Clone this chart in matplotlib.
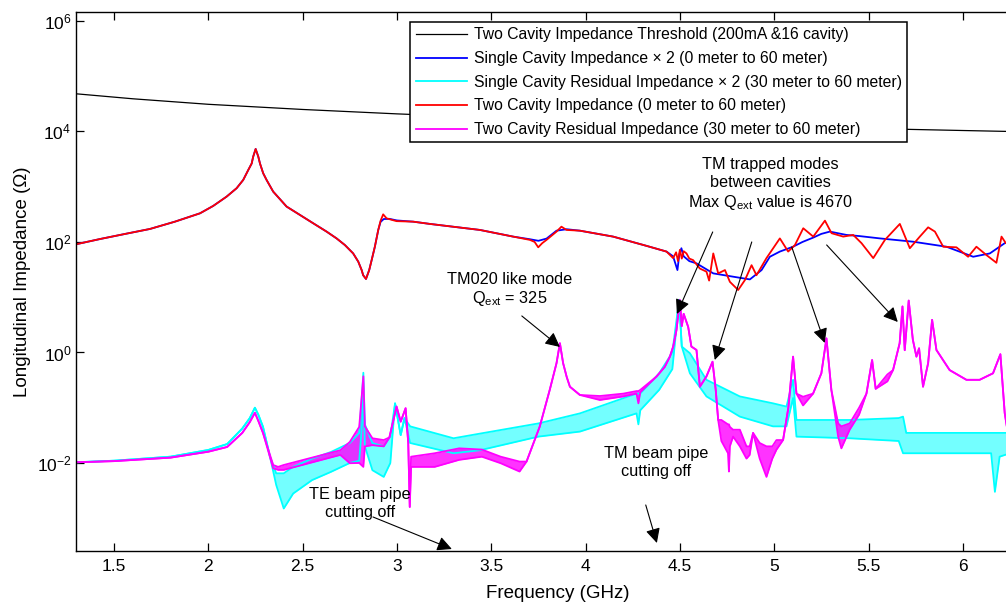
import matplotlib.pyplot as plt

plt.rcParams['font.family'] = ['Liberation Sans', 'DejaVu Sans']

# threshold line (200mA, 16 cavities)
thr_freq = [1.3, 1.6, 2.0, 2.5, 3.0, 3.5, 4.0, 4.5, 5.0, 5.5, 6.0, 6.4]
thr_imp = [48000, 39000, 31000, 25000, 20800, 17800, 15600, 13900, 12500, 11300, 10400, 9750]

# single cavity impedance x2 (blue)
blue_freq = [1.30, 1.426, 1.56, 1.691, 1.823, 1.956, 2.026, 2.097, 2.15, 2.185,
             2.212, 2.23, 2.238, 2.251, 2.265, 2.274, 2.291, 2.309, 2.344, 2.415,
             2.486, 2.556, 2.627, 2.68, 2.724, 2.768, 2.795, 2.813, 2.821, 2.836,
             2.853, 2.866, 2.883, 2.901, 2.913, 2.93, 2.96, 3.0, 3.086, 3.175,
             3.263, 3.44, 3.616, 3.705, 3.75, 3.793, 3.846, 3.90, 3.97, 4.146,
             4.323, 4.429, 4.464, 4.487, 4.497, 4.508, 4.52, 4.55, 4.588, 4.677,
             4.783, 4.871, 4.933, 4.977, 5.03, 5.10, 5.15, 5.207, 5.25, 5.295,
             5.383, 5.45, 5.56, 5.737, 5.913, 6.055, 6.143, 6.222, 6.30]
blue_imp = [91, 113, 140, 172, 233, 330, 449, 661, 938, 1324,
            2010, 2630, 3500, 4820, 3500, 2630, 1750, 1324, 815, 437,
            308, 218, 154, 116, 88, 62, 44, 31, 25, 21.4,
            31, 47, 82, 165, 230, 260, 262, 245, 233, 212,
            195, 165, 125, 112, 105, 115, 160, 170, 160, 125,
            85, 67, 55, 31, 60, 77, 55, 45, 41, 27,
            23.5, 21, 31, 54, 67, 82, 100, 120, 140, 154,
            134, 128, 116, 101, 82, 54, 62, 95, 110]

# two cavity impedance (red)
red_freq = [1.30, 1.426, 1.56, 1.691, 1.823, 1.956, 2.026, 2.097, 2.15, 2.185,
            2.212, 2.23, 2.238, 2.251, 2.265, 2.274, 2.291, 2.309, 2.344, 2.415,
            2.486, 2.556, 2.627, 2.68, 2.724, 2.768, 2.795, 2.813, 2.821, 2.836,
            2.853, 2.866, 2.883, 2.901, 2.913, 2.927, 2.945, 2.975, 2.998, 3.086,
            3.175, 3.263, 3.44, 3.616, 3.705, 3.73, 3.749, 3.77, 3.793, 3.846,
            3.872, 3.899, 3.97, 4.146, 4.323, 4.429, 4.464, 4.48, 4.49, 4.50,
            4.51, 4.52, 4.535, 4.55, 4.57, 4.606, 4.641, 4.655, 4.677, 4.703,
            4.739, 4.765, 4.809, 4.845, 4.88, 4.906, 4.959, 5.03, 5.074, 5.11,
            5.154, 5.207, 5.269, 5.304, 5.366, 5.419, 5.463, 5.525, 5.587, 5.666,
            5.719, 5.772, 5.816, 5.852, 5.896, 5.966, 6.028, 6.072, 6.125, 6.178,
            6.205, 6.228, 6.30]
red_imp = [91, 113, 140, 172, 233, 330, 449, 661, 938, 1324,
           2010, 2630, 3500, 4820, 3500, 2630, 1750, 1324, 815, 437,
           308, 218, 154, 116, 88, 62, 44, 31, 25, 21.4,
           31, 47, 82, 165, 240, 316, 268, 250, 238, 233,
           212, 195, 165, 125, 109, 100, 80, 95, 109, 154,
           189, 165, 160, 125, 85, 67, 51, 65, 45, 72,
           50, 68, 62, 50, 47, 33, 29, 20, 62, 27,
           31, 19, 13.5, 20.5, 38, 25, 51, 116, 67, 88,
           177, 125, 243, 144, 125, 134, 95, 51, 109, 212,
           77, 125, 184, 154, 82, 80, 54, 82, 58, 42,
           125, 95, 110]

# single cavity residual x2 (cyan): upper / lower edge of the ripple
cyan_freq = [1.30, 1.50, 1.80, 2.00, 2.10, 2.18, 2.22, 2.247, 2.265, 2.29,
             2.327, 2.36, 2.40, 2.45, 2.55, 2.65, 2.75, 2.80, 2.815, 2.822,
             2.83, 2.87, 2.93, 2.965, 2.99, 3.02, 3.04, 3.07, 3.30, 3.44,
             3.75, 3.97, 4.27, 4.28, 4.29, 4.39, 4.46, 4.496, 4.51, 4.553,
             4.641, 4.818, 4.994, 5.065, 5.10, 5.118, 5.40, 5.66, 5.683, 5.70,
             6.15, 6.17, 6.195, 6.25]
cyan_hi = [0.0103, 0.011, 0.013, 0.0172, 0.022, 0.042, 0.065, 0.10, 0.075, 0.045,
           0.013, 0.0065, 0.0065, 0.0085, 0.012, 0.0158, 0.023, 0.035, 0.18, 0.43,
           0.05, 0.023, 0.02, 0.03, 0.12, 0.032, 0.065, 0.046, 0.028, 0.034,
           0.052, 0.079, 0.18, 0.18, 0.18, 0.42, 1.0, 9.0, 1.28, 0.97,
           0.32, 0.16, 0.12, 0.105, 0.32, 0.06, 0.06, 0.065, 0.069, 0.035,
           0.035, 0.035, 0.035, 0.035]
cyan_lo = [0.0103, 0.011, 0.013, 0.0172, 0.022, 0.042, 0.065, 0.10, 0.075, 0.045,
           0.013, 0.004, 0.0015, 0.0028, 0.0049, 0.0069, 0.010, 0.011, 0.05, 0.2,
           0.02, 0.0074, 0.0056, 0.01, 0.12, 0.032, 0.065, 0.023, 0.015, 0.017,
           0.030, 0.037, 0.079, 0.05, 0.09, 0.21, 0.5, 9.0, 1.28, 0.42,
           0.16, 0.069, 0.046, 0.046, 0.15, 0.03, 0.028, 0.025, 0.015, 0.015,
           0.015, 0.003, 0.013, 0.015]

# two cavity residual (magenta): upper / lower edge of the ripple
mag_freq = [1.30, 1.50, 1.80, 2.00, 2.10, 2.18, 2.22, 2.247, 2.265, 2.29,
            2.344, 2.37, 2.40, 2.70, 2.75, 2.80, 2.822, 2.83, 2.87, 2.93,
            2.96, 2.998, 3.02, 3.046, 3.06, 3.068, 3.075, 3.20, 3.33, 3.45,
            3.55, 3.65, 3.687, 3.757, 3.81, 3.846, 3.864, 3.881, 3.90, 3.917,
            3.97, 4.076, 4.20, 4.27, 4.28, 4.29, 4.376, 4.42, 4.447, 4.465,
            4.482, 4.50, 4.51, 4.52, 4.544, 4.561, 4.588, 4.606, 4.641, 4.673,
            4.69, 4.703, 4.72, 4.755, 4.76, 4.765, 4.782, 4.818, 4.853, 4.87,
            4.888, 4.923, 4.959, 4.99, 5.012, 5.047, 5.075, 5.10, 5.118, 5.153,
            5.206, 5.25, 5.277, 5.303, 5.339, 5.356, 5.40, 5.45, 5.489, 5.519,
            5.538, 5.60, 5.63, 5.665, 5.68, 5.692, 5.713, 5.735, 5.754, 5.768,
            5.789, 5.816, 5.837, 5.86, 5.93, 6.019, 6.089, 6.16, 6.199, 6.222,
            6.25]
mag_hi = [0.0103, 0.0108, 0.0125, 0.016, 0.0195, 0.035, 0.055, 0.081, 0.058, 0.035,
          0.0092, 0.0085, 0.0092, 0.017, 0.024, 0.045, 0.37, 0.046, 0.028, 0.026,
          0.029, 0.105, 0.056, 0.098, 0.023, 0.0016, 0.013, 0.015, 0.0184, 0.0175,
          0.013, 0.0106, 0.0106, 0.0455, 0.21, 0.64, 1.47, 0.64, 0.36, 0.24,
          0.17, 0.163, 0.18, 0.20, 0.20, 0.21, 0.366, 0.55, 0.84, 1.3,
          2.55, 8.9, 3.0, 5.0, 2.9, 1.28, 1.11, 0.24, 0.37, 0.68,
          0.21, 0.06, 0.06, 0.05, 0.05, 0.045, 0.04, 0.04, 0.02, 0.02,
          0.035, 0.023, 0.02, 0.02, 0.026, 0.026, 0.10, 0.84, 0.18, 0.158,
          0.18, 0.42, 1.8, 0.21, 0.052, 0.046, 0.052, 0.10, 0.18, 0.73,
          0.22, 0.40, 0.48, 1.47, 6.8, 1.1, 8.7, 1.7, 0.84, 1.19,
          0.24, 0.64, 3.9, 1.11, 0.48, 0.32, 0.32, 0.42, 0.93, 0.08,
          0.02]
mag_lo = [0.0103, 0.0108, 0.0125, 0.016, 0.0195, 0.035, 0.055, 0.081, 0.058, 0.035,
          0.0080, 0.0075, 0.0075, 0.014, 0.0099, 0.010, 0.0085, 0.020, 0.021, 0.020,
          0.029, 0.105, 0.056, 0.098, 0.023, 0.0016, 0.0085, 0.0085, 0.0114, 0.013,
          0.0099, 0.0070, 0.0106, 0.0455, 0.21, 0.64, 1.47, 0.64, 0.36, 0.24,
          0.17, 0.138, 0.16, 0.18, 0.12, 0.19, 0.366, 0.55, 0.84, 1.3,
          2.55, 8.9, 3.0, 5.0, 2.9, 1.28, 1.11, 0.24, 0.37, 0.68,
          0.21, 0.06, 0.025, 0.015, 0.007, 0.02, 0.03, 0.02, 0.012, 0.014,
          0.035, 0.012, 0.0056, 0.012, 0.0174, 0.026, 0.10, 0.84, 0.18, 0.11,
          0.18, 0.42, 1.8, 0.21, 0.03, 0.0184, 0.04, 0.075, 0.18, 0.73,
          0.22, 0.30, 0.48, 1.47, 6.8, 1.1, 8.7, 1.7, 0.84, 1.19,
          0.24, 0.64, 3.9, 1.11, 0.48, 0.32, 0.32, 0.42, 0.93, 0.08,
          0.02]

labels = ['Two Cavity Impedance Threshold (200mA &16 cavity)',
          'Single Cavity Impedance \u00d7 2 (0 meter to 60 meter)',
          'Single Cavity Residual Impedance \u00d7 2 (30 meter to 60 meter)',
          'Two Cavity Impedance (0 meter to 60 meter)',
          'Two Cavity Residual Impedance (30 meter to 60 meter)']

fig = plt.figure(figsize=(10.06, 6.04), dpi=100)
# axes runs a little past the right edge of the picture, like the original
ax = fig.add_axes([0.0758, 0.0877, 0.9563, 0.8924])

lw = 1.3
h1, = ax.plot(thr_freq, thr_imp, color='k', lw=0.9)
h2, = ax.plot(blue_freq, blue_imp, color='#0000ff', lw=lw)
h3, = ax.plot(cyan_freq, cyan_hi, color='#00ffff', lw=lw)
ax.plot(cyan_freq, cyan_lo, color='#00ffff', lw=lw)
ax.fill_between(cyan_freq, cyan_lo, cyan_hi, color='#00ffff', alpha=0.55, lw=0)
h4, = ax.plot(red_freq, red_imp, color='#ff0000', lw=lw)
h5, = ax.plot(mag_freq, mag_hi, color='#ff00ff', lw=lw)
ax.plot(mag_freq, mag_lo, color='#ff00ff', lw=lw)
ax.fill_between(mag_freq, mag_lo, mag_hi, color='#ff00ff', alpha=0.8, lw=0)

ax.set_yscale('log')
ax.set_xlim(1.3, 6.4)
ax.set_ylim(2.55e-4, 1.45e6)
ax.set_xticks([1.5, 2, 2.5, 3, 3.5, 4, 4.5, 5, 5.5, 6])
ax.set_xticklabels(['1.5', '2', '2.5', '3', '3.5', '4', '4.5', '5', '5.5', '6'])
ax.set_yticks([1e-2, 1e0, 1e2, 1e4, 1e6])
ax.minorticks_off()
ax.tick_params(direction='in', top=True, right=True, length=6, width=0.9, labelsize=12.5)
ax.tick_params(axis='x', pad=5.5)
for s in ax.spines.values():
    s.set_linewidth(1.0)

ax.set_xlabel('Frequency (GHz)', fontsize=13.5, labelpad=8)
ax.set_ylabel('Longitudinal Impedance (\u03a9)', fontsize=13.5)

leg = fig.legend([h1, h2, h3, h4, h5], labels, loc='upper left',
                 bbox_to_anchor=(0.4076, 0.9636), bbox_transform=fig.transFigure,
                 fontsize=11.3, handlelength=3.3, handletextpad=0.4,
                 labelspacing=0.55, borderpad=0.35, borderaxespad=0,
                 fancybox=False, framealpha=1)
leg.get_frame().set_edgecolor('k')
leg.get_frame().set_linewidth(1.1)

# annotations
arrow = dict(arrowstyle='-|>', color='k', lw=0.8, mutation_scale=22, shrinkA=0, shrinkB=0)
ax.text(3.599, 10**1.131, 'TM020 like mode\nQ$_{\\mathregular{ext}}$ = 325',
        ha='center', va='center', fontsize=11.7)
ax.annotate('', xy=(3.864, 10**0.1), xytext=(3.662, 10**0.661), arrowprops=arrow)

ax.text(4.982, 10**3.04, 'TM trapped modes\nbetween cavities\nMax Q$_{\\mathregular{ext}}$ value is 4670',
        ha='center', va='center', fontsize=11.7)
ax.annotate('', xy=(4.484, 10**0.697), xytext=(4.674, 10**2.181), arrowprops=arrow)
ax.annotate('', xy=(4.685, 10**-0.136), xytext=(4.881, 10**2.0), arrowprops=arrow)
ax.annotate('', xy=(5.268, 10**0.172), xytext=(5.093, 10**1.909), arrowprops=arrow)
ax.annotate('', xy=(5.655, 10**0.552), xytext=(5.278, 10**1.946), arrowprops=arrow)

ax.text(2.804, 10**-2.733, 'TE beam pipe\ncutting off', ha='center', va='center', fontsize=11.7)
ax.annotate('', xy=(3.291, 10**-3.557), xytext=(2.873, 10**-2.977), arrowprops=arrow)

ax.text(4.372, 10**-1.991, 'TM beam pipe\ncutting off', ha='center', va='center', fontsize=11.7)
ax.annotate('', xy=(4.378, 10**-3.448), xytext=(4.319, 10**-2.76), arrowprops=arrow)

fig.savefig('out.png', dpi=100)
